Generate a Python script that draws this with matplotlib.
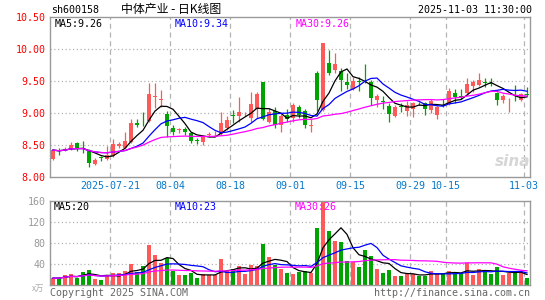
import matplotlib
matplotlib.use("Agg")
import matplotlib.pyplot as plt
import numpy as np
import pandas as pd

# ===== data (daily K-line, sh600158) =====
opens = [8.28, 8.42, 8.42, 8.43, 8.53, 8.45, 8.42, 8.21, 8.31, 8.28,
         8.33, 8.49, 8.46, 8.55, 8.84, 8.94, 8.88, 9.25, 9.21, 8.98,
         8.76, 8.73, 8.75, 8.68, 8.58, 8.55, 8.66, 8.68, 8.67, 8.76,
         8.97, 8.96, 8.98, 8.92, 9.06, 9.48, 8.86, 9.03, 8.81, 8.97,
         8.92, 9.10, 9.03, 8.80, 9.63, 9.05, 9.78, 9.67, 9.66, 9.49,
         9.38, 9.50, 9.55, 9.49, 9.20, 9.18, 9.11, 8.96, 9.11, 9.03,
         9.07, 9.16, 9.16, 9.05, 8.97, 9.12, 9.14, 9.32, 9.26, 9.31,
         9.42, 9.44, 9.48, 9.47, 9.31, 9.21, 9.20, 9.21, 9.20, 9.29]
highs = [8.43, 8.45, 8.47, 8.55, 8.54, 8.56, 8.43, 8.30, 8.33, 8.48,
         8.60, 8.55, 8.71, 8.90, 8.90, 9.02, 9.47, 9.47, 9.36, 9.03,
         8.81, 8.76, 8.78, 8.70, 8.61, 8.66, 8.70, 8.72, 9.01, 8.96,
         9.05, 9.25, 9.02, 9.33, 9.33, 9.48, 9.08, 9.09, 8.98, 9.06,
         9.15, 9.13, 9.06, 8.90, 9.66, 10.10, 9.98, 9.94, 9.70, 9.62,
         9.57, 9.57, 9.76, 9.52, 9.29, 9.27, 9.15, 9.12, 9.15, 9.18,
         9.17, 9.17, 9.17, 9.22, 9.11, 9.22, 9.39, 9.38, 9.37, 9.54,
         9.51, 9.62, 9.54, 9.54, 9.33, 9.29, 9.23, 9.44, 9.32, 9.40]
lows = [8.27, 8.34, 8.40, 8.42, 8.40, 8.38, 8.16, 8.19, 8.25, 8.27,
        8.31, 8.46, 8.45, 8.53, 8.78, 8.80, 8.86, 9.08, 9.09, 8.62,
        8.65, 8.68, 8.65, 8.53, 8.52, 8.50, 8.63, 8.64, 8.65, 8.74,
        8.85, 8.86, 8.95, 8.86, 8.92, 8.89, 8.84, 8.77, 8.71, 8.86,
        8.86, 8.92, 8.77, 8.71, 9.03, 9.03, 9.60, 9.63, 9.34, 9.37,
        9.36, 9.34, 9.47, 9.12, 9.09, 9.06, 8.86, 8.94, 9.01, 8.95,
        8.93, 9.12, 8.97, 9.00, 8.90, 9.09, 9.12, 9.16, 9.22, 9.28,
        9.33, 9.42, 9.40, 9.42, 9.12, 9.16, 9.02, 9.18, 9.18, 9.26]
closes = [8.42, 8.40, 8.44, 8.50, 8.46, 8.44, 8.22, 8.26, 8.30, 8.35,
          8.52, 8.51, 8.56, 8.84, 8.81, 8.93, 9.30, 9.27, 9.22, 8.79,
          8.71, 8.75, 8.70, 8.56, 8.57, 8.63, 8.67, 8.69, 8.85, 8.89,
          8.95, 9.01, 8.99, 9.14, 9.29, 8.91, 9.01, 8.81, 8.96, 8.90,
          9.12, 8.97, 8.82, 8.82, 9.20, 10.10, 9.62, 9.77, 9.52, 9.43,
          9.50, 9.48, 9.54, 9.24, 9.26, 9.17, 8.99, 9.10, 9.09, 9.12,
          9.16, 9.15, 9.06, 9.19, 9.10, 9.11, 9.34, 9.25, 9.25, 9.45,
          9.49, 9.51, 9.47, 9.46, 9.21, 9.27, 9.21, 9.20, 9.30, 9.28]
volumes = [13, 13, 19, 21, 14, 25, 28, 11.5, 9.5, 18,
           23, 23, 27, 40, 25, 36, 76, 57, 41, 51,
           27, 19, 19, 23, 14, 21, 19, 19, 50, 27,
           30, 36, 21, 38, 36, 78, 54, 38, 30, 23,
           21, 25, 27, 23, 109, 170, 102, 83, 81, 46,
           43, 35, 67, 56, 30, 23, 29, 18, 18, 21,
           21, 18, 18, 27, 21, 23, 27, 21, 23, 41,
           19, 30, 25, 21, 35, 19, 22, 22, 24, 13]

label_dates = ["2025-07-21", "2025-08-04", "2025-08-18", "2025-09-01",
               "2025-09-15", "2025-09-29", "2025-10-15", "2025-11-03"]
price_ma_last = [9.26, 9.34, 9.26]
vol_ma_last = [20, 23, 26]

# trading days: weekdays, minus the National Day holiday
days = pd.bdate_range("2025-07-07", "2025-11-03")
days = days[(days < "2025-10-01") | (days > "2025-10-08")]

W, H = 545, 300
RED = "#ff5a5a"
GREEN = "#00a400"
GRID = "#b4b4b4"
MONO = "DejaVu Sans Mono"
CJK = ["Noto Sans CJK SC", "DejaVu Sans"]
FS = 7.2


def box(l, t, r, b):
    return [l / W, 1 - b / H, (r - l) / W, (b - t) / H]


def ftext(x, y, s, **kw):
    kw.setdefault("family", MONO)
    kw.setdefault("fontsize", FS)
    kw.setdefault("va", "center")
    fig.text(x / W, 1 - y / H, s, **kw)


o = np.array(opens)
h = np.array(highs)
l = np.array(lows)
c = np.array(closes)
v = np.array(volumes)
n = len(c)
x = np.arange(n)
colors = np.where(c >= o, RED, GREEN)

tick_pos = [days.get_loc(pd.Timestamp(d)) - 0.5 for d in label_dates]
tick_lab = [d if i == 0 else d[5:] for i, d in enumerate(label_dates)]

fig = plt.figure(figsize=(W / 100, H / 100), dpi=100)
ax = fig.add_axes(box(50, 17, 530, 177))
axv = fig.add_axes(box(50, 201, 530, 285))

# ===== price panel =====
for yv in [8.5, 9.0, 9.5, 10.0]:
    ax.axhline(yv, color=GRID, lw=0.9, ls=(0, (1, 2)), zorder=0)
for p in tick_pos:
    ax.axvline(p, color=GRID, lw=0.9, ls=(0, (4, 3)), zorder=0)

ax.vlines(x, l, h, colors=colors, lw=0.9, zorder=2)
ax.bar(x, np.maximum(np.abs(c - o), 0.007), bottom=np.minimum(o, c),
       width=0.8, color=colors, linewidth=0, zorder=3)

cs = pd.Series(c)
ax.plot(x, cs.rolling(5, min_periods=1).mean(), color="black", lw=0.9, zorder=4)
ax.plot(x, cs.rolling(10, min_periods=1).mean(), color="#0000ff", lw=0.9, zorder=4)
ax.plot(x, cs.rolling(30, min_periods=1).mean(), color="#ff00ff", lw=0.9, zorder=4)

ax.set_xlim(-0.5, n - 0.5)
ax.set_ylim(8.0, 10.5)
ax.set_yticks([8.0, 8.5, 9.0, 9.5, 10.0, 10.5])
ax.set_yticklabels([f"{t:.2f}" for t in [8.0, 8.5, 9.0, 9.5, 10.0, 10.5]],
                   family=MONO, fontsize=FS, color="red")
ax.set_xticks(tick_pos)
ax.set_xticklabels(tick_lab, family=MONO, fontsize=FS, color="#0a78c8")
ax.tick_params(length=0, pad=3)

# ===== volume panel =====
for yv in [40, 80, 120]:
    axv.axhline(yv, color=GRID, lw=0.9, ls=(0, (1, 2)), zorder=0)
for p in tick_pos:
    axv.axvline(p, color=GRID, lw=0.9, ls=(0, (4, 3)), zorder=0)

axv.bar(x, v, width=0.8, color=colors, linewidth=0, zorder=2)
vs = pd.Series(v)
axv.plot(x, vs.rolling(5, min_periods=1).mean(), color="black", lw=0.9, zorder=4)
axv.plot(x, vs.rolling(10, min_periods=1).mean(), color="#0000ff", lw=0.9, zorder=4)
axv.plot(x, vs.rolling(30, min_periods=1).mean(), color="#ff00ff", lw=0.9, zorder=4)

axv.set_xlim(-0.5, n - 0.5)
axv.set_ylim(0, 160)
axv.set_yticks([40, 80, 120, 160])
axv.set_yticklabels(["40", "80", "120", "160"], family=MONO, fontsize=FS,
                    color="#999999")
axv.set_xticks(tick_pos)
axv.set_xticklabels([])
axv.tick_params(length=0, pad=3)

for a in (ax, axv):
    for s in a.spines.values():
        s.set_color("#999999")
        s.set_linewidth(1)

# ===== texts =====
ftext(51, 10, "sh600158")
ftext(121, 10, "中体产业 - 日K线图", family=CJK, fontsize=8.6)
ftext(532, 10, "2025-11-03 11:30:00", ha="right")

ftext(55, 24, f"MA5:{price_ma_last[0]:.2f}", color="black")
ftext(175, 24, f"MA10:{price_ma_last[1]:.2f}", color="#0000ff")
ftext(296, 24, f"MA30:{price_ma_last[2]:.2f}", color="#ff00ff")

ftext(54, 207, f"MA5:{vol_ma_last[0]}", color="black")
ftext(175, 207, f"MA10:{vol_ma_last[1]}", color="#0000ff")
ftext(295, 207, f"MA30:{vol_ma_last[2]}", color="#ff00ff")

ftext(44, 288, "x万", family=CJK, fontsize=6, color="#aaaaaa", ha="right")
ftext(50, 293, "Copyright 2025 SINA.COM", color="#666666")
ftext(530, 293, "http://finance.sina.com.cn", color="#666666", ha="right")

ftext(513, 162, "sina", family="DejaVu Sans", fontsize=11, style="italic",
      weight="bold", color="#d6d6d6", ha="center")

fig.savefig("out.png", dpi=100)
